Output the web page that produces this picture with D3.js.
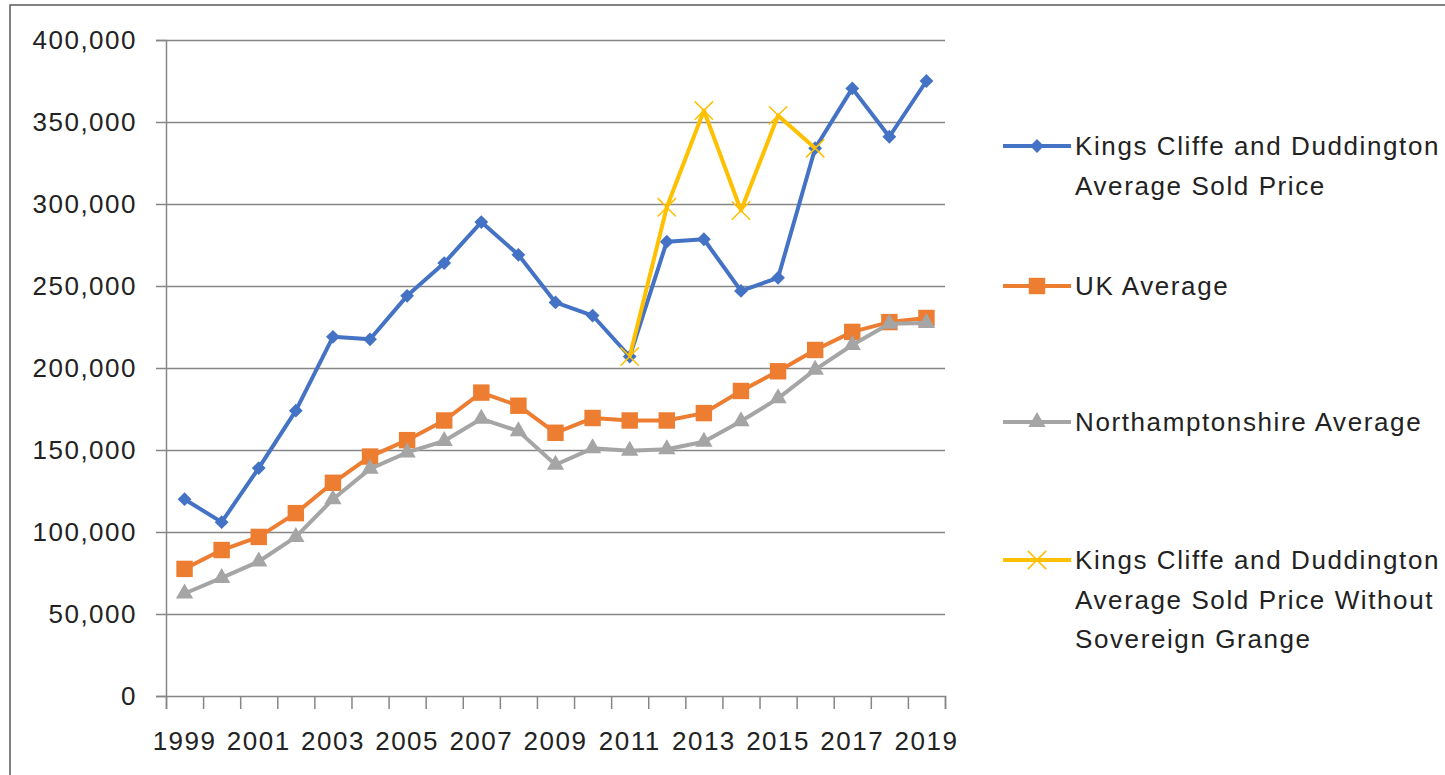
<!DOCTYPE html>
<html>
<head>
<meta charset="utf-8">
<script src="https://cdn.jsdelivr.net/npm/d3@7"></script>
<style>
  body { margin: 0; background: #fff; }
  svg text { font-family: "Liberation Sans", Arial, sans-serif; fill: #222; }
</style>
</head>
<body>
<svg id="chart" width="1445" height="775"></svg>
<script>
// data
const years = d3.range(1999, 2020)
const yearLabels = [1999, 2001, 2003, 2005, 2007, 2009, 2011, 2013, 2015, 2017, 2019]
const yTicks = [0, 50000, 100000, 150000, 200000, 250000, 300000, 350000, 400000]

const kingsCliffe = [120000, 106000, 139000, 174000, 219000, 217500, 244000, 264000, 289000, 269000,
  240000, 232000, 207000, 277000, 278500, 247000, 255000, 334000, 370500, 341000, 375000]
const ukAverage = [77500, 89000, 97000, 111500, 130000, 146000, 156000, 168000, 185000, 177000,
  160500, 169500, 168000, 168000, 172500, 186000, 198000, 211000, 222000, 228000, 230500]
const northants = [62500, 72000, 82000, 97000, 120000, 138500, 148500, 155500, 169000, 161500,
  141000, 151000, 149500, 150500, 155000, 167500, 181500, 199000, 214000, 227000, 227500]
// only 2011-2016
const withoutSovereign = [null, null, null, null, null, null, null, null, null, null,
  null, null, 207000, 298000, 357000, 296000, 354000, 334000, null, null, null]

const seriesNames = [
  ["Kings Cliffe and Duddington", "Average Sold Price"],
  ["UK Average"],
  ["Northamptonshire Average"],
  ["Kings Cliffe and Duddington", "Average Sold Price Without", "Sovereign Grange"]
]

const blue = "#4472c4", orange = "#ed7d31", grey = "#a5a5a5", yellow = "#ffc000"

const series = [
  { values: kingsCliffe, color: blue, symbol: "diamond" },
  { values: ukAverage, color: orange, symbol: "square" },
  { values: northants, color: grey, symbol: "triangle" },
  { values: withoutSovereign, color: yellow, symbol: "x" }
]

const svg = d3.select("#chart")
const plotLeft = 166, plotRight = 945, plotTop = 40, plotBottom = 696

// outer frame
svg.append("rect")
  .attr("x", 10).attr("y", 5)
  .attr("width", 1460).attr("height", 800)
  .attr("fill", "none").attr("stroke", "#595959").attr("stroke-width", 1.5)

const xScale = d3.scaleBand().domain(years).range([plotLeft, plotRight])
const xEdges = d3.scaleLinear().domain([0, years.length]).range([plotLeft, plotRight])
const yScale = d3.scaleLinear().domain([0, 400000]).range([plotBottom, plotTop])

// gridlines
svg.append("g")
  .attr("transform", `translate(${plotLeft},0)`)
  .call(d3.axisLeft(yScale).tickValues(yTicks.slice(1)).tickSize(-(plotRight - plotLeft)).tickFormat(""))
  .call(g => g.select(".domain").remove())
  .call(g => g.selectAll("line").attr("stroke", "#868686").attr("stroke-width", 1.5))

// y axis
svg.append("g")
  .attr("transform", `translate(${plotLeft},0)`)
  .call(d3.axisLeft(yScale).tickValues(yTicks).tickSize(10).tickPadding(19).tickFormat(d3.format(",")))
  .call(g => g.select(".domain").attr("stroke", "#868686").attr("stroke-width", 1.5))
  .call(g => g.selectAll("line").attr("stroke", "#868686").attr("stroke-width", 1.5))
  .call(g => g.selectAll("text").attr("font-size", 26).attr("letter-spacing", "1.5px")
    .attr("font-family", "Liberation Sans, Arial, sans-serif").attr("fill", "#222"))

// x axis: ticks on the category edges
svg.append("g")
  .attr("transform", `translate(0,${plotBottom})`)
  .call(d3.axisBottom(xEdges).tickValues(d3.range(0, years.length + 1)).tickSize(13).tickFormat(""))
  .call(g => g.select(".domain").attr("stroke", "#868686").attr("stroke-width", 1.5))
  .call(g => g.selectAll("line").attr("stroke", "#868686").attr("stroke-width", 1.5))

svg.append("g")
  .attr("transform", `translate(0,${plotBottom})`)
  .call(d3.axisBottom(xScale).tickValues(yearLabels).tickSize(0).tickPadding(36))
  .call(g => g.select(".domain").remove())
  .call(g => g.selectAll("text").attr("font-size", 26).attr("letter-spacing", "1.5px")
    .attr("font-family", "Liberation Sans, Arial, sans-serif").attr("fill", "#222"))

const cx = d => xScale(d) + xScale.bandwidth() / 2

function marker(sel, s, color) {
  if (s === "diamond") {
    sel.append("path").attr("d", d3.symbol(d3.symbolSquare, 95)())
      .attr("transform", "rotate(45)").attr("fill", color)
  } else if (s === "square") {
    sel.append("path").attr("d", d3.symbol(d3.symbolSquare, 270)()).attr("fill", color)
  } else if (s === "triangle") {
    sel.append("path").attr("d", d3.symbol(d3.symbolTriangle, 130)()).attr("fill", color)
  } else {
    sel.append("path").attr("d", d3.symbol(d3.symbolTimes, 220)())
      .attr("fill", "none").attr("stroke", color).attr("stroke-width", 1.5)
  }
}

const line = d3.line()
  .defined(d => d.v !== null)
  .x(d => cx(d.year))
  .y(d => yScale(d.v))

series.forEach(s => {
  const pts = years.map((year, i) => ({ year, v: s.values[i] }))
  const g = svg.append("g")
  g.append("path")
    .attr("d", line(pts))
    .attr("fill", "none")
    .attr("stroke", s.color)
    .attr("stroke-width", 4)
    .attr("stroke-linejoin", "round")
  g.selectAll("g.pt")
    .data(pts.filter(d => d.v !== null))
    .join("g")
    .attr("class", "pt")
    .attr("transform", d => `translate(${cx(d.year)},${yScale(d.v)})`)
    .each(function() { marker(d3.select(this), s.symbol, s.color) })
})

// legend
const legendY = [146, 286, 422, 560]
series.forEach((s, i) => {
  const g = svg.append("g").attr("transform", `translate(1003,${legendY[i]})`)
  g.append("line").attr("x1", 0).attr("x2", 68).attr("stroke", s.color).attr("stroke-width", 4)
  const m = g.append("g").attr("transform", "translate(34,0)")
  marker(m, s.symbol, s.color)
  seriesNames[i].forEach((t, j) => {
    g.append("text")
      .attr("x", 72).attr("y", j * 39.5)
      .attr("dy", "0.35em")
      .attr("font-size", 26)
      .attr("letter-spacing", "1.6px")
      .text(t)
  })
})
</script>
</body>
</html>
